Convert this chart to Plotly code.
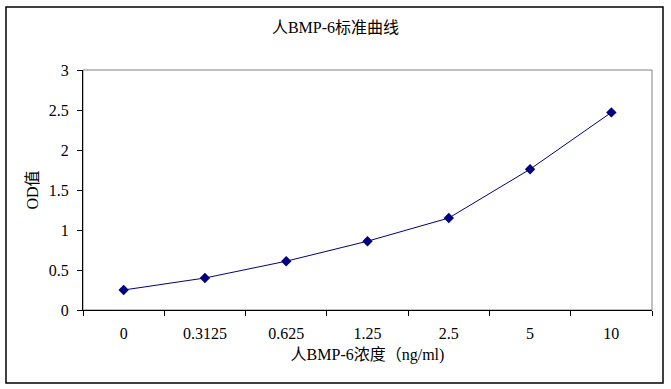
import plotly.graph_objects as go

categories = ["0", "0.3125", "0.625", "1.25", "2.5", "5", "10"]
od_values = [0.25, 0.40, 0.61, 0.86, 1.15, 1.76, 2.47]
y_ticks = [0, 0.5, 1, 1.5, 2, 2.5, 3]
y_tick_labels = ["0", "0.5", "1", "1.5", "2", "2.5", "3"]

title_text = "人BMP-6标准曲线"
x_title = "人BMP-6浓度（ng/ml)"
y_title = "OD值"

FONT = "Liberation Serif, Noto Sans CJK SC, serif"

fig = go.Figure()
fig.add_trace(go.Scatter(
    x=categories, y=od_values, mode="lines+markers",
    line=dict(color="#000080", width=1),
    marker=dict(symbol="diamond", size=8, color="#000080"),
    showlegend=False, cliponaxis=False,
))

fig.update_layout(
    width=671, height=389,
    margin=dict(l=83, r=19, t=70, b=79),
    paper_bgcolor="white", plot_bgcolor="white",
    font=dict(family=FONT, size=16, color="black"),
    title=dict(text=title_text, x=0.5, xref="container", xanchor="center",
               y=1 - 27 / 389, yref="container", yanchor="middle",
               font=dict(family=FONT, size=16, color="black")),
    xaxis=dict(
        type="category", showgrid=False, zeroline=False,
        showline=True, linecolor="black", linewidth=1,
        ticks="outside", ticklen=5, tickcolor="black", tickson="boundaries",
        ticklabelstandoff=9,
        tickfont=dict(family=FONT, size=16),
        title=dict(text=x_title, standoff=7, font=dict(family=FONT, size=16)),
        range=[-0.5, 6.5],
    ),
    yaxis=dict(
        range=[0, 3], tickvals=y_ticks, ticktext=y_tick_labels,
        showgrid=False, zeroline=False,
        showline=True, linecolor="black", linewidth=1,
        ticks="outside", ticklen=5, tickcolor="black",
        ticklabelstandoff=5,
        tickfont=dict(family=FONT, size=16),
        title=dict(text=y_title, standoff=6, font=dict(family=FONT, size=16)),
    ),
    shapes=[
        dict(type="rect", xref="paper", yref="paper", x0=0, x1=1, y0=0, y1=1,
             line=dict(color="#808080", width=1), layer="below"),
        dict(type="rect", xref="paper", yref="paper",
             x0=(6 - 83) / 569, x1=(663 - 83) / 569,
             y0=(310 - 383) / 240, y1=(310 - 7) / 240,
             line=dict(color="black", width=1.5), layer="below"),
    ],
)

fig.write_html("out.html", config={"displayModeBar": False},
               post_script="document.body.style.margin='0';")
